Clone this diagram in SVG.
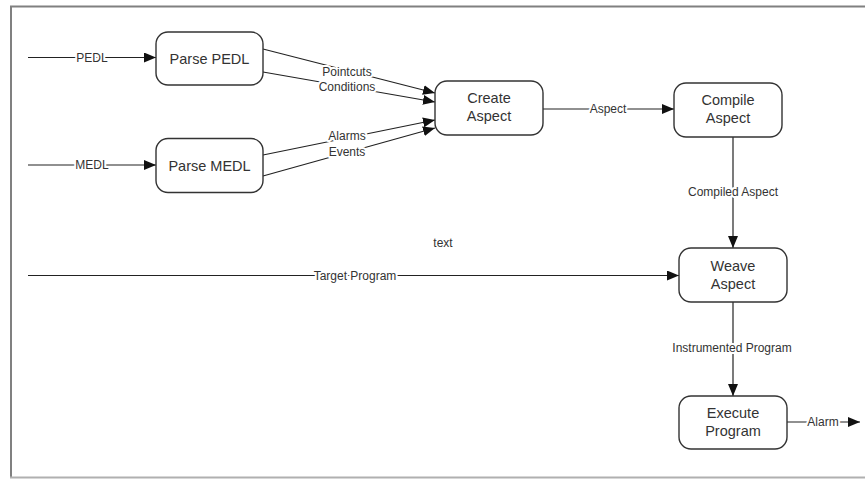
<svg xmlns="http://www.w3.org/2000/svg" width="865" height="479" viewBox="0 0 865 479">
<defs>
<style>
.frame{stroke:#808080;stroke-width:2;fill:none}
.box{fill:#fff;stroke:#333;stroke-width:1.4}
.node{font-family:"Liberation Sans",Arial,sans-serif;font-size:14.5px;fill:#333;text-anchor:middle}
.conn line{stroke:#222;stroke-width:1.2;fill:none}
.arr{marker-end:url(#ah)}
.lbl{font-family:"Liberation Sans",Arial,sans-serif;font-size:12px;fill:#333;text-anchor:middle;stroke:#fff;stroke-width:4;paint-order:stroke;stroke-linejoin:round}
</style>
<marker id="ah" markerWidth="12" markerHeight="10" refX="12" refY="5" orient="auto" markerUnits="userSpaceOnUse">
<path d="M0,0 L12,5 L0,10 Z" fill="#111"/>
</marker>
</defs>
<rect width="865" height="479" fill="#fff"/>
<g id="frame">
<line class="frame" x1="10" y1="6.5" x2="865" y2="6.5"/>
<line class="frame" x1="11" y1="6" x2="11" y2="478"/>
<line x1="10" y1="477.5" x2="865" y2="477.5" stroke="#b0b0b0" stroke-width="2"/>
</g>
<g id="connectors" class="conn">
<line class="arr" x1="28" y1="57.5" x2="156" y2="57.5"/>
<line class="arr" x1="28" y1="165" x2="156" y2="165"/>
<line class="arr" x1="263" y1="49" x2="435" y2="93"/>
<line class="arr" x1="263" y1="72" x2="435" y2="102"/>
<line class="arr" x1="263" y1="155" x2="435" y2="120"/>
<line class="arr" x1="263" y1="176" x2="435" y2="128"/>
<line class="arr" x1="543" y1="109" x2="674" y2="109"/>
<line class="arr" x1="733" y1="137" x2="733" y2="248"/>
<line class="arr" x1="28" y1="275.5" x2="679" y2="275.5"/>
<line class="arr" x1="733" y1="302" x2="733" y2="396"/>
<line class="arr" x1="787" y1="422" x2="860" y2="422"/>
<text class="lbl" x="92" y="61.5">PEDL</text>
<text class="lbl" x="92" y="169">MEDL</text>
<text class="lbl" x="347" y="76">Pointcuts</text>
<text class="lbl" x="347" y="91">Conditions</text>
<text class="lbl" x="347" y="140">Alarms</text>
<text class="lbl" x="347" y="156">Events</text>
<text class="lbl" x="608" y="113">Aspect</text>
<text class="lbl" x="733" y="196">Compiled Aspect</text>
<text class="lbl" x="355" y="279.5">Target Program</text>
<text class="lbl" x="732" y="352">Instrumented Program</text>
<text class="lbl" x="823" y="426">Alarm</text>
</g>
<g id="parse-pedl">
<rect class="box" x="156" y="32" width="107" height="53" rx="12"/>
<text class="node" x="209.5" y="63.5">Parse PEDL</text>
</g>
<g id="parse-medl">
<rect class="box" x="156" y="138.5" width="107" height="54" rx="12"/>
<text class="node" x="209.5" y="170.5">Parse MEDL</text>
</g>
<g id="create-aspect">
<rect class="box" x="435" y="81" width="108" height="54" rx="12"/>
<text class="node" x="489" y="103">Create</text>
<text class="node" x="489" y="121">Aspect</text>
</g>
<g id="compile-aspect">
<rect class="box" x="674" y="83" width="108" height="54" rx="12"/>
<text class="node" x="728" y="105">Compile</text>
<text class="node" x="728" y="123">Aspect</text>
</g>
<g id="weave-aspect">
<rect class="box" x="679" y="248" width="108" height="54" rx="12"/>
<text class="node" x="733" y="271">Weave</text>
<text class="node" x="733" y="289">Aspect</text>
</g>
<g id="execute-program">
<rect class="box" x="679" y="396" width="108" height="53" rx="12"/>
<text class="node" x="733" y="418">Execute</text>
<text class="node" x="733" y="436">Program</text>
</g>
<text x="443" y="247" style="font-family:'Liberation Sans',Arial,sans-serif;font-size:12px;fill:#333;text-anchor:middle">text</text>
</svg>
